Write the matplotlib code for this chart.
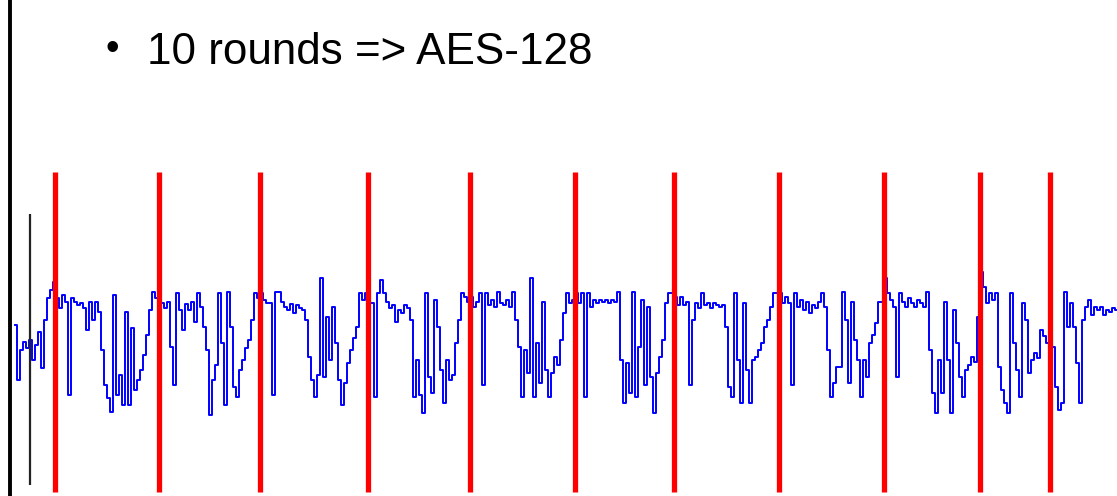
import matplotlib.pyplot as plt
import numpy as np

# power trace samples (one sample per ~3 px), arbitrary units
trace = [
    95, 40, 70, 78, 72, 80, 60, 75, 88, 52, 100, 122, 130, 138,
    122, 112, 125, 118, 25, 122, 118, 115, 117, 112, 90, 118, 100, 118, 108,
    70, 35, 22, 8, 125, 25, 45, 15, 108, 15, 92, 30, 40, 50, 65, 85, 110, 128, 122,
    115, 117, 112, 118, 73, 35, 127, 110, 90, 116, 110, 118, 98, 127, 113, 93, 70, 5,
    40, 55, 127, 77, 15, 128, 93, 33, 23, 50, 60, 72, 80, 100, 127, 122,
    127, 120, 117, 117, 25, 128, 128, 118, 113, 110, 116, 107, 115, 112, 110, 100, 63, 40,
    23, 45, 142, 43, 103, 60, 113, 77, 40, 15, 37, 57, 70, 82, 93, 127, 120, 127,
    117, 117, 23, 127, 140, 127, 118, 112, 115, 98, 110, 107, 115, 112, 100, 23, 60,
    25, 7, 127, 43, 27, 120, 93, 50, 17, 60, 40, 45, 77, 100, 127, 123,
    118, 123, 113, 118, 127, 35, 127, 115, 120, 113, 128, 117, 115, 120, 113, 128, 100,
    73, 23, 70, 47, 142, 23, 77, 37, 118, 50, 23, 47, 63, 55, 80, 107, 127, 117,
    120, 127, 117, 127, 23, 127, 113, 120, 117, 120, 118, 120, 117, 120, 118, 128, 60,
    17, 57, 27, 128, 23, 73, 120, 35, 113, 43, 7, 47, 63, 80, 117, 127, 127,
    123, 115, 123, 115, 118, 35, 100, 117, 112, 127, 115, 117, 112, 117, 115, 113, 115,
    93, 33, 23, 127, 60, 17, 117, 50, 17, 60, 63, 70, 77, 93, 100, 113, 127, 127,
    127, 117, 123, 117, 35, 127, 113, 120, 110, 118, 107, 115, 112, 118, 127, 113, 70,
    23, 37, 53, 53, 128, 100, 37, 118, 80, 60, 23, 60, 43, 77, 85, 97, 118, 118,
    142, 127, 120, 113, 43, 127, 118, 113, 122, 117, 113, 120, 117, 113, 128, 70,
    27, 7, 60, 27, 118, 60, 7, 110, 77, 43, 23, 50, 55, 63, 58, 103,
    148, 133, 117, 127, 120, 127, 53, 30, 17, 7, 127, 77, 50, 23, 117, 100, 47, 60,
    67, 62, 90, 84, 77,
    73, 73, 33, 10, 17, 128, 93, 117, 93, 57, 17, 100, 113, 120, 105, 113, 110, 113,
    105, 110, 108, 112, 110,
]

# start of each AES round (sample index)
round_starts = [13.2, 48.0, 81.5, 117.8, 151.5, 186.5, 219.8, 254.8, 289.8, 321.8, 345.0]

# trigger marker (sample index)
trigger = 5.0

samples = np.arange(len(trace))

fig = plt.figure(figsize=(11.17, 4.96), dpi=100)
ax = fig.add_axes([0, 0, 1, 1])

# ==============================
# TRACE + ROUND MARKERS
# ==============================
ax.plot(samples, trace, color="#0000ff", linewidth=1.4, drawstyle="steps-mid")
ax.vlines(round_starts, -72, 248, color="#ff0000", linewidth=3.8)
ax.vlines(trigger, -65, 206, color="#222222", linewidth=1.6)

# slide border on the left
ax.vlines(-1.67, -80, 430, color="black", linewidth=2.8)

ax.set_xlim(-5, 367.33)
ax.set_ylim(-76, 420)
ax.axis("off")

# ==============================
# SLIDE TEXT
# ==============================
fig.text(112 / 1117, 1 - 50 / 496, "\u2022", fontsize=28, family="Liberation Sans",
         ha="center", va="center")
fig.text(147 / 1117, 1 - 64 / 496, "10 rounds => AES-128", fontsize=31.7,
         family="Liberation Sans", ha="left", va="baseline")

plt.savefig("out.png", dpi=100)
plt.close()
